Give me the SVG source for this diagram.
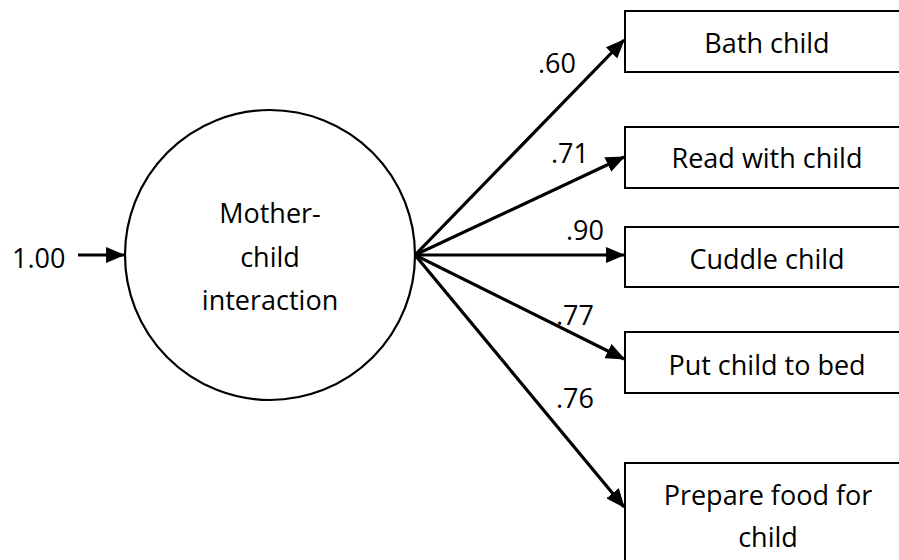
<svg xmlns="http://www.w3.org/2000/svg" width="899" height="560" viewBox="0 0 899 560">
  <style>
    text { font-family: "Open Sans", "Noto Sans", "DejaVu Sans", sans-serif; font-size: 27px; fill: #000; }
    .mid { text-anchor: middle; }
    .box { fill: #fff; stroke: #000; stroke-width: 2; }
    .path { stroke: #000; stroke-width: 3.2; fill: none; marker-end: url(#head); }
  </style>
  <defs>
    <marker id="head" markerWidth="6" markerHeight="5" refX="5.6" refY="2.5" orient="auto" markerUnits="strokeWidth">
      <path d="M0,0 L6,2.5 L0,5 Z" fill="#000"/>
    </marker>
  </defs>

  <rect width="899" height="560" fill="#fff"/>

  <!-- latent factor -->
  <g id="factor">
    <circle cx="270" cy="255" r="145" fill="#fff" stroke="#000" stroke-width="2.2"/>
    <text class="mid" x="270" y="223">Mother-</text>
    <text class="mid" x="270" y="267">child</text>
    <text class="mid" x="270" y="310">interaction</text>
  </g>

  <!-- observed indicators -->
  <g id="bath">
    <rect class="box" x="625" y="11" width="290" height="61"/>
    <text class="mid" x="767" y="53">Bath child</text>
  </g>
  <g id="read">
    <rect class="box" x="625" y="127" width="290" height="61"/>
    <text class="mid" x="767" y="168">Read with child</text>
  </g>
  <g id="cuddle">
    <rect class="box" x="625" y="227" width="290" height="60"/>
    <text class="mid" x="767" y="269">Cuddle child</text>
  </g>
  <g id="bed">
    <rect class="box" x="625" y="332" width="290" height="61"/>
    <text class="mid" x="767" y="375">Put child to bed</text>
  </g>
  <g id="food">
    <rect class="box" x="625" y="463" width="290" height="110"/>
    <text class="mid" x="768" y="505">Prepare food for</text>
    <text class="mid" x="768" y="547">child</text>
  </g>

  <!-- paths and loadings -->
  <g id="connectors">
    <line class="path" x1="78" y1="255" x2="124" y2="255"/>
    <line class="path" x1="415" y1="255" x2="624" y2="40"/>
    <line class="path" x1="415" y1="255" x2="624" y2="157"/>
    <line class="path" x1="415" y1="255" x2="624" y2="255"/>
    <line class="path" x1="415" y1="255" x2="624" y2="359"/>
    <line class="path" x1="415" y1="255" x2="624" y2="507"/>
  </g>
  <g id="labels">
    <text x="12" y="268">1.00</text>
    <text x="538" y="73">.60</text>
    <text x="551" y="163">.71</text>
    <text x="566" y="240">.90</text>
    <text x="556" y="325">.77</text>
    <text x="556" y="408">.76</text>
  </g>
</svg>
